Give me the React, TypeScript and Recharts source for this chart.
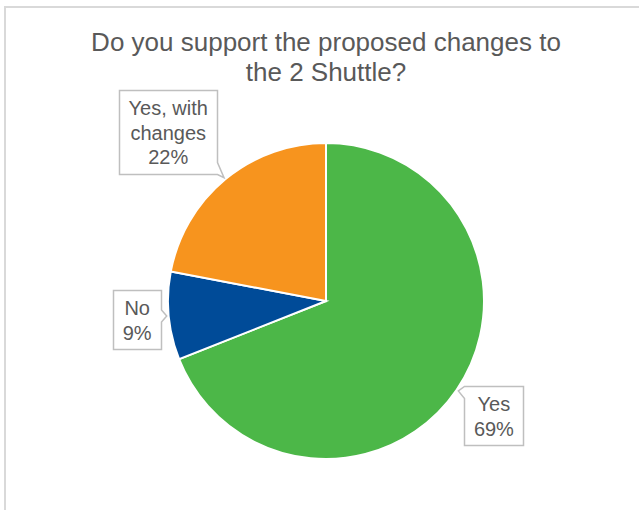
import React from 'react';
import { PieChart, Pie, Cell } from 'recharts';

const titleLines = ['Do you support the proposed changes to', 'the 2 Shuttle?'];
const categories = ['Yes', 'No', 'Yes, with\nchanges'];
const shares = [69, 9, 22];
const colors = ['#4cb748', '#004b98', '#f7941e'];

const W = 639;
const H = 510;
const FONT = '"Liberation Sans", Arial, sans-serif';
const TEXT_COLOR = '#595959';
const LABEL_SIZE = 20;
const LINE_H = 24.5;
const PAD_X = 9.5;
const RAD = Math.PI / 180;
// small hand nudges so the callouts sit where Excel put them
const labelShift: [number, number][] = [[0, 0], [-1, 1], [-14, 5]];

const data = categories.map((name, i) => ({ name, value: shares[i] }));

let ctx: CanvasRenderingContext2D | null = null;
function measure(s: string) {
  if (!ctx) ctx = document.createElement('canvas').getContext('2d');
  if (!ctx) return s.length * LABEL_SIZE * 0.55;
  ctx.font = `${LABEL_SIZE}px ${FONT}`;
  return ctx.measureText(s).width;
}

const clamp = (v: number, lo: number, hi: number) => Math.max(lo, Math.min(hi, v));

function CalloutLabel(props: any) {
  const { cx, cy, midAngle, outerRadius, index } = props;
  const a = -midAngle * RAD;
  const ux = Math.cos(a);
  const uy = Math.sin(a);
  const tipX = cx + (outerRadius + 2) * ux;
  const tipY = cy + (outerRadius + 2) * uy;

  const lines = [...categories[index].split('\n'), `${shares[index]}%`];
  const w = Math.max(...lines.map(measure)) + 2 * PAD_X;
  const h = lines.length * LINE_H + 10;
  const hw = w / 2;
  const hh = h / 2;
  const support = hw * Math.abs(ux) + hh * Math.abs(uy);
  const [sx, sy] = labelShift[index] || [0, 0];
  const bx = tipX + ux * (support + 2) + sx;
  const by = tipY + uy * (support + 2) + sy;

  const x1 = Math.round(bx - hw) + 0.5;
  const x2 = Math.round(bx + hw) + 0.5;
  const y1 = Math.round(by - hh) + 0.5;
  const y2 = Math.round(by + hh) + 0.5;

  const dx = tipX - bx;
  const dy = tipY - by;
  const half = 6;
  let pts: [number, number][];
  if (Math.abs(dx) / hw >= Math.abs(dy) / hh) {
    const c = clamp(tipY, y1 + half, y2 - half);
    if (dx > 0) {
      pts = [[x1, y1], [x2, y1], [x2, c - half], [tipX, tipY], [x2, c + half], [x2, y2], [x1, y2]];
    } else {
      pts = [[x1, y1], [x2, y1], [x2, y2], [x1, y2], [x1, c + half], [tipX, tipY], [x1, c - half]];
    }
  } else {
    const c = clamp(tipX, x1 + half, x2 - half);
    if (dy > 0) {
      pts = [[x1, y1], [x2, y1], [x2, y2], [c + half, y2], [tipX, tipY], [c - half, y2], [x1, y2]];
    } else {
      pts = [[x1, y1], [c - half, y1], [tipX, tipY], [c + half, y1], [x2, y1], [x2, y2], [x1, y2]];
    }
  }
  const d = 'M' + pts.map((p) => `${p[0]},${p[1]}`).join('L') + 'Z';

  return (
    <g>
      <path d={d} fill="#fff" stroke="#bfbfbf" strokeWidth={1.5} />
      {lines.map((ln, i) => (
        <text
          key={i}
          x={bx}
          y={y1 + 24.5 + i * LINE_H}
          textAnchor="middle"
          fontSize={LABEL_SIZE}
          fontFamily={FONT}
          fill={TEXT_COLOR}
        >
          {ln}
        </text>
      ))}
    </g>
  );
}

export default function App() {
  return (
    <div style={{ position: 'absolute', left: 0, top: 0, width: W, height: H, background: '#fff' }}>
      <svg width={W} height={H} style={{ position: 'absolute', left: 0, top: 0 }}>
        <line x1={5} y1={7} x2={W} y2={7} stroke="#d9d9d9" strokeWidth={2} />
        <line x1={5} y1={6} x2={5} y2={H} stroke="#d9d9d9" strokeWidth={2} />
        {titleLines.map((t, i) => (
          <text
            key={i}
            x={326}
            y={51 + i * 29.5}
            textAnchor="middle"
            fontSize={26}
            fontFamily={FONT}
            fill={TEXT_COLOR}
          >
            {t}
          </text>
        ))}
      </svg>
      <div style={{ position: 'absolute', left: 0, top: 0 }}>
        <PieChart width={W} height={H} margin={{ top: 0, right: 0, bottom: 0, left: 0 }}>
          <Pie
            data={data}
            dataKey="value"
            nameKey="name"
            cx={326}
            cy={301}
            outerRadius={158}
            startAngle={90}
            endAngle={-270}
            stroke="#fff"
            strokeWidth={2}
            label={CalloutLabel}
            labelLine={false}
            isAnimationActive={false}
          >
            {data.map((d, i) => (
              <Cell key={d.name} fill={colors[i]} />
            ))}
          </Pie>
        </PieChart>
      </div>
    </div>
  );
}
